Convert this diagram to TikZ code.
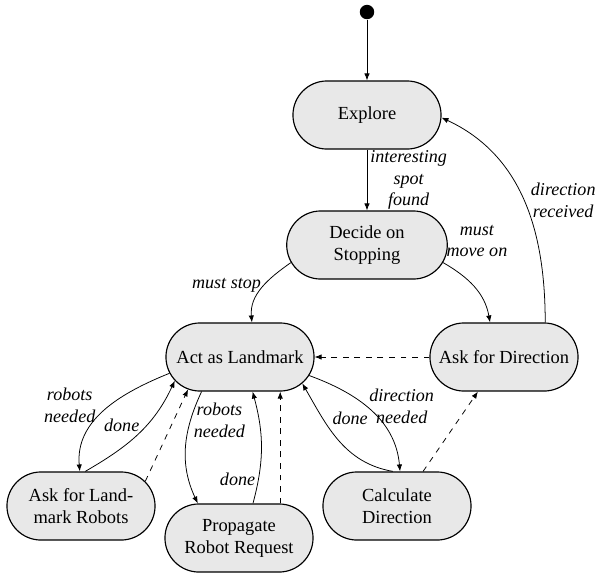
\documentclass[tikz,border=0pt]{standalone}
\usepackage{fontspec}
\setmainfont{Liberation Serif}
\usetikzlibrary{arrows.meta, positioning, shapes.misc}

% one centred line of state text, allowed to run into the round ends
\newcommand{\sline}[1]{\makebox[0pt]{#1}}

\begin{document}
\begin{tikzpicture}[x=0.52pt, y=0.52pt, >={Latex[length=3.6pt,width=2.8pt]},
    state/.style={rounded rectangle, draw, semithick, fill=gray!18, minimum width=77pt, minimum height=35.4pt, inner xsep=0pt, align=center, font=\fontsize{9.6}{11.5}\selectfont},
    lbl/.style={font=\fontsize{9.4}{11.4}\selectfont\itshape, align=center, inner sep=1.5pt}]
    \useasboundingbox (0,0) rectangle (595,-575);

    % initial state
    \node[circle, fill=black, minimum size=7.5pt, inner sep=0pt] (init) at (367,-12) {};

    % states
    \node[state] (explore) at (367,-115) {\sline{Explore}};
    \node[state, minimum width=83.5pt] (decide) at (367,-245) {\sline{Decide on}\\\sline{Stopping}};
    \node[state] (act) at (240,-357) {\sline{Act as Landmark}};
    \node[state] (askdir) at (504,-357) {\sline{Ask for Direction}};
    \node[state] (askland) at (81,-506) {\sline{Ask for Land-}\\\sline{mark Robots}};
    \node[state] (propagate) at (239,-538) {\sline{Propagate}\\\sline{Robot Request}};
    \node[state] (calc) at (397,-506) {\sline{Calculate}\\\sline{Direction}};

    % transitions
    \draw[->] (init) -- (explore);
    \draw[->] (explore) -- node[lbl, right] {interesting\\spot\\found} (decide);
    \draw[->] (decide.193) to[out=215, in=95] node[lbl, left, pos=0.45] {must stop} (act.71);
    \draw[->] (decide.347) to[out=-30, in=100] node[lbl, above right, pos=0.08, xshift=-3pt, yshift=3pt] {must\\move on} (askdir.112);
    \draw[->] (askdir.40) to[out=90, in=-25] node[lbl, right, pos=0.5, xshift=2pt] {direction\\received} (explore.-2);
    \draw[->, dashed] (askdir.west) -- (act.east);

    % landmark robots
    \draw[->] (act.193) to[out=202, in=95] node[lbl, left, pos=0.45, xshift=-6pt] {robots\\needed} (askland.92);
    \draw[->] (askland.83) to[out=30, in=245] node[lbl, above left, pos=0.55, yshift=-3pt] {done} (act.200);
    \draw[->, dashed] (askland.21) -- (act.212);

    % propagate request
    \draw[->] (act.222) to[out=245, in=115] node[lbl, right, pos=0.25] {robots\\needed} (propagate.140);
    \draw[->] (propagate.68) to[out=75, in=-75] node[lbl, left, pos=0.2] {done} (act.290);
    \draw[->, dashed] (propagate.40) -- (propagate.40 |- act.south);

    % direction
    \draw[->] (act.345) to[out=-20, in=95] node[lbl, right, pos=0.45] {direction\\needed} (calc.85);
    \draw[->] (calc.97) to[out=170, in=-60] node[lbl, above right, pos=0.62] {done} (act.337);
    \draw[->, dashed] (calc.53) -- (askdir.233);
\end{tikzpicture}
\end{document}
